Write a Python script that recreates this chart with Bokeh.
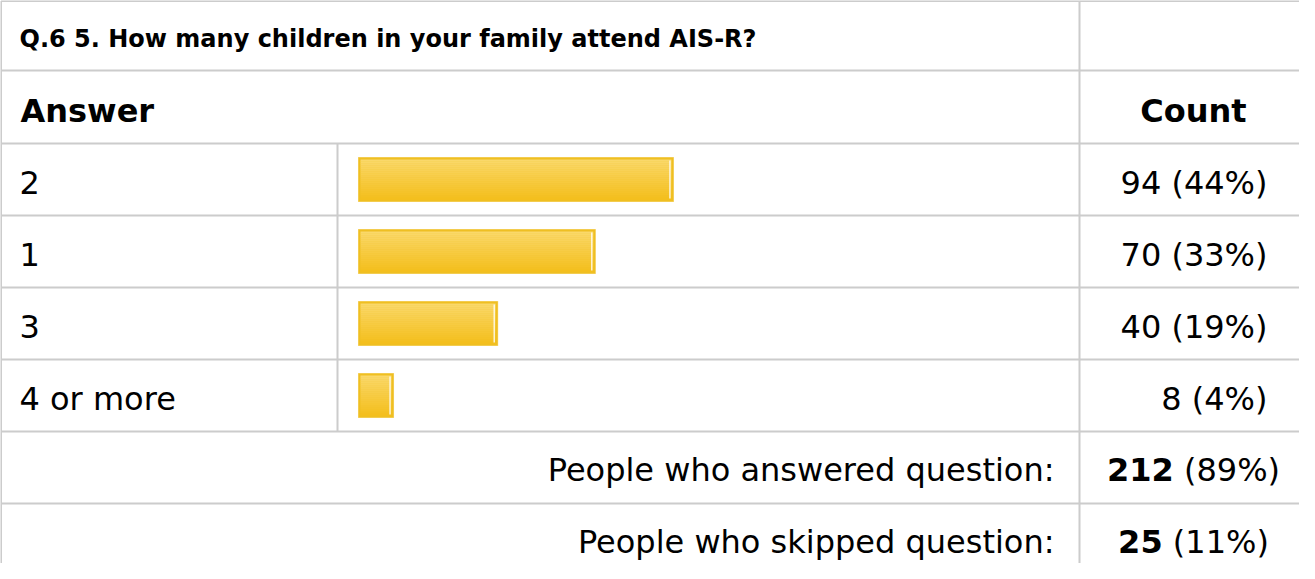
from bokeh.plotting import figure
from bokeh.models import Range1d
from bokeh.embed import file_html
from bokeh.resources import INLINE
from bokeh.core.properties import value

# ---------------- data ----------------
question = "Q.6 5. How many children in your family attend AIS-R?"
answers = ["2", "1", "3", "4 or more"]
counts = [94, 70, 40, 8]
summary_labels = ["People who answered question:", "People who skipped question:"]
summary_counts = [212, 25]
summary_pcts = [89, 11]

answered = summary_counts[0]

# ---------------- layout ----------------
W, H = 1299, 563
OX, OY = 8, 8
FONT = "DejaVu Sans"
GRID = "#cccccc"

LEFT, RIGHT = 8.5, 1320
DIV_BAR, DIV_CNT = 345, 1087
TOP, HEAD_TOP, ROWS_TOP, ROW_H = 8.5, 78, 151, 72
n = len(answers)
BOTTOM = ROWS_TOP + (n + 2) * ROW_H
CNT_CENTER = (DIV_CNT + 1315) / 2
FIX32 = -12   # renderer baseline correction for 32px text
FIX24 = -9    # renderer baseline correction for 24px text

p = figure(width=W, height=H, x_range=Range1d(OX, OX + W), y_range=Range1d(OY + H, OY),
           output_backend="svg", toolbar_location=None, min_border=0,
           x_axis_location=None, y_axis_location=None,
           outline_line_color=None, background_fill_color="white", border_fill_color="white")
p.grid.visible = False

# ---------------- grid lines ----------------
hy = [TOP, HEAD_TOP] + [ROWS_TOP + k * ROW_H for k in range(n + 2)]
p.segment(x0=[LEFT] * len(hy), x1=[RIGHT] * len(hy), y0=hy, y1=hy, line_color=GRID, line_width=2)
p.segment(x0=[LEFT, DIV_CNT, DIV_BAR], x1=[LEFT, DIV_CNT, DIV_BAR],
          y0=[TOP, TOP, ROWS_TOP], y1=[BOTTOM, BOTTOM, ROWS_TOP + n * ROW_H],
          line_color=GRID, line_width=2)

# ---------------- bars ----------------
BAR_X0 = 366
BAR_H = 44
PX_PER_PCT = 6.9
BAR_MIN = 9

def hex2rgb(h):
    h = h.lstrip("#")
    return tuple(int(h[i:i + 2], 16) for i in (0, 2, 4))

def lerp(c1, c2, t):
    a, b = hex2rgb(c1), hex2rgb(c2)
    return "#%02x%02x%02x" % tuple(int(round(a[i] + (b[i] - a[i]) * t)) for i in range(3))

pcts = [c / answered * 100 for c in counts]
centers = [ROWS_TOP + ROW_H * (i + 0.5) for i in range(n)]
rights = [BAR_X0 + BAR_MIN + PX_PER_PCT * pc for pc in pcts]

# outer light edge + gold border
p.quad(left=[BAR_X0 - 0.5] * n, right=[r + 0.5 for r in rights],
       top=[c - BAR_H / 2 - 0.5 for c in centers], bottom=[c + BAR_H / 2 + 0.5 for c in centers],
       fill_color="#f7d97c", line_color=None)
p.quad(left=[BAR_X0] * n, right=rights,
       top=[c - BAR_H / 2 for c in centers], bottom=[c + BAR_H / 2 for c in centers],
       fill_color="#efbf22", line_color=None)

# gradient interior
NS = 20
inner_h = BAR_H - 4
gl, gr, gt, gb, gc = [], [], [], [], []
for c, r in zip(centers, rights):
    t0 = c - inner_h / 2
    for k in range(NS):
        gl.append(BAR_X0 + 2)
        gr.append(r - 2)
        gt.append(t0 + inner_h * k / NS)
        gb.append(t0 + inner_h * (k + 1) / NS + 0.3)
        gc.append(lerp("#fad86a", "#f4bf1e", k / (NS - 1)))
p.quad(left=gl, right=gr, top=gt, bottom=gb, fill_color=gc, line_color=None)

# white highlight near the right end
p.segment(x0=[r - 3.5 for r in rights], x1=[r - 3.5 for r in rights],
          y0=[c - BAR_H / 2 + 3 for c in centers], y1=[c + BAR_H / 2 - 3 for c in centers],
          line_color="white", line_width=1.2)

# ---------------- texts ----------------
p.text(x=[27], y=[55 + FIX24], text=[question], text_font=value(FONT), text_font_size=value("24px"),
       text_font_style="bold", text_color="#000000", text_baseline="alphabetic", text_align="left")
p.text(x=[28], y=[130 + FIX32], text=["Answer"], text_font=value(FONT), text_font_size=value("32px"),
       text_font_style="bold", text_color="#000000", text_baseline="alphabetic", text_align="left")
p.text(x=[CNT_CENTER], y=[130 + FIX32], text=["Count"], text_font=value(FONT), text_font_size=value("32px"),
       text_font_style="bold", text_color="#000000", text_baseline="alphabetic", text_align="center")

p.text(x=[27] * n, y=[c + 15 + FIX32 for c in centers], text=answers, text_font=value(FONT),
       text_font_size=value("32px"), text_color="#000000", text_baseline="alphabetic", text_align="left")
count_labels = [f"{c} ({round(pc)}%)" for c, pc in zip(counts, pcts)]
p.text(x=[1275] * n, y=[c + 15 + FIX32 for c in centers], text=count_labels, text_font=value(FONT),
       text_font_size=value("32px"), text_color="#000000", text_baseline="alphabetic", text_align="right")

# summary rows
s_centers = [ROWS_TOP + ROW_H * (n + i + 0.5) for i in range(len(summary_labels))]
s_y = [c + 14 + FIX32 for c in s_centers]
p.text(x=[1062] * len(summary_labels), y=s_y, text=summary_labels,
       text_font=value(FONT), text_font_size=value("32px"), text_color="#000000",
       text_baseline="alphabetic", text_align="right")

REG_W = {"(": 0.390, ")": 0.390, "%": 0.950, " ": 0.318}
def reg_width(s, fs=32):
    return sum(REG_W.get(ch, 0.636) for ch in s) * fs

SPACE = 0.318 * 32
bold_txt = [str(v) for v in summary_counts]
reg_txt = [f"({v}%)" for v in summary_pcts]
splits = []
for b, r in zip(bold_txt, reg_txt):
    bw = len(b) * 0.696 * 32
    tw = bw + SPACE + reg_width(r)
    splits.append(CNT_CENTER - tw / 2 + bw)
p.text(x=splits, y=s_y, text=bold_txt, text_font=value(FONT),
       text_font_size=value("32px"), text_font_style="bold", text_color="#000000",
       text_baseline="alphabetic", text_align="right")
p.text(x=[s + SPACE for s in splits], y=s_y, text=reg_txt, text_font=value(FONT),
       text_font_size=value("32px"), text_color="#000000",
       text_baseline="alphabetic", text_align="left")

open("out.html", "w").write(file_html(p, INLINE, title="Q.6"))
